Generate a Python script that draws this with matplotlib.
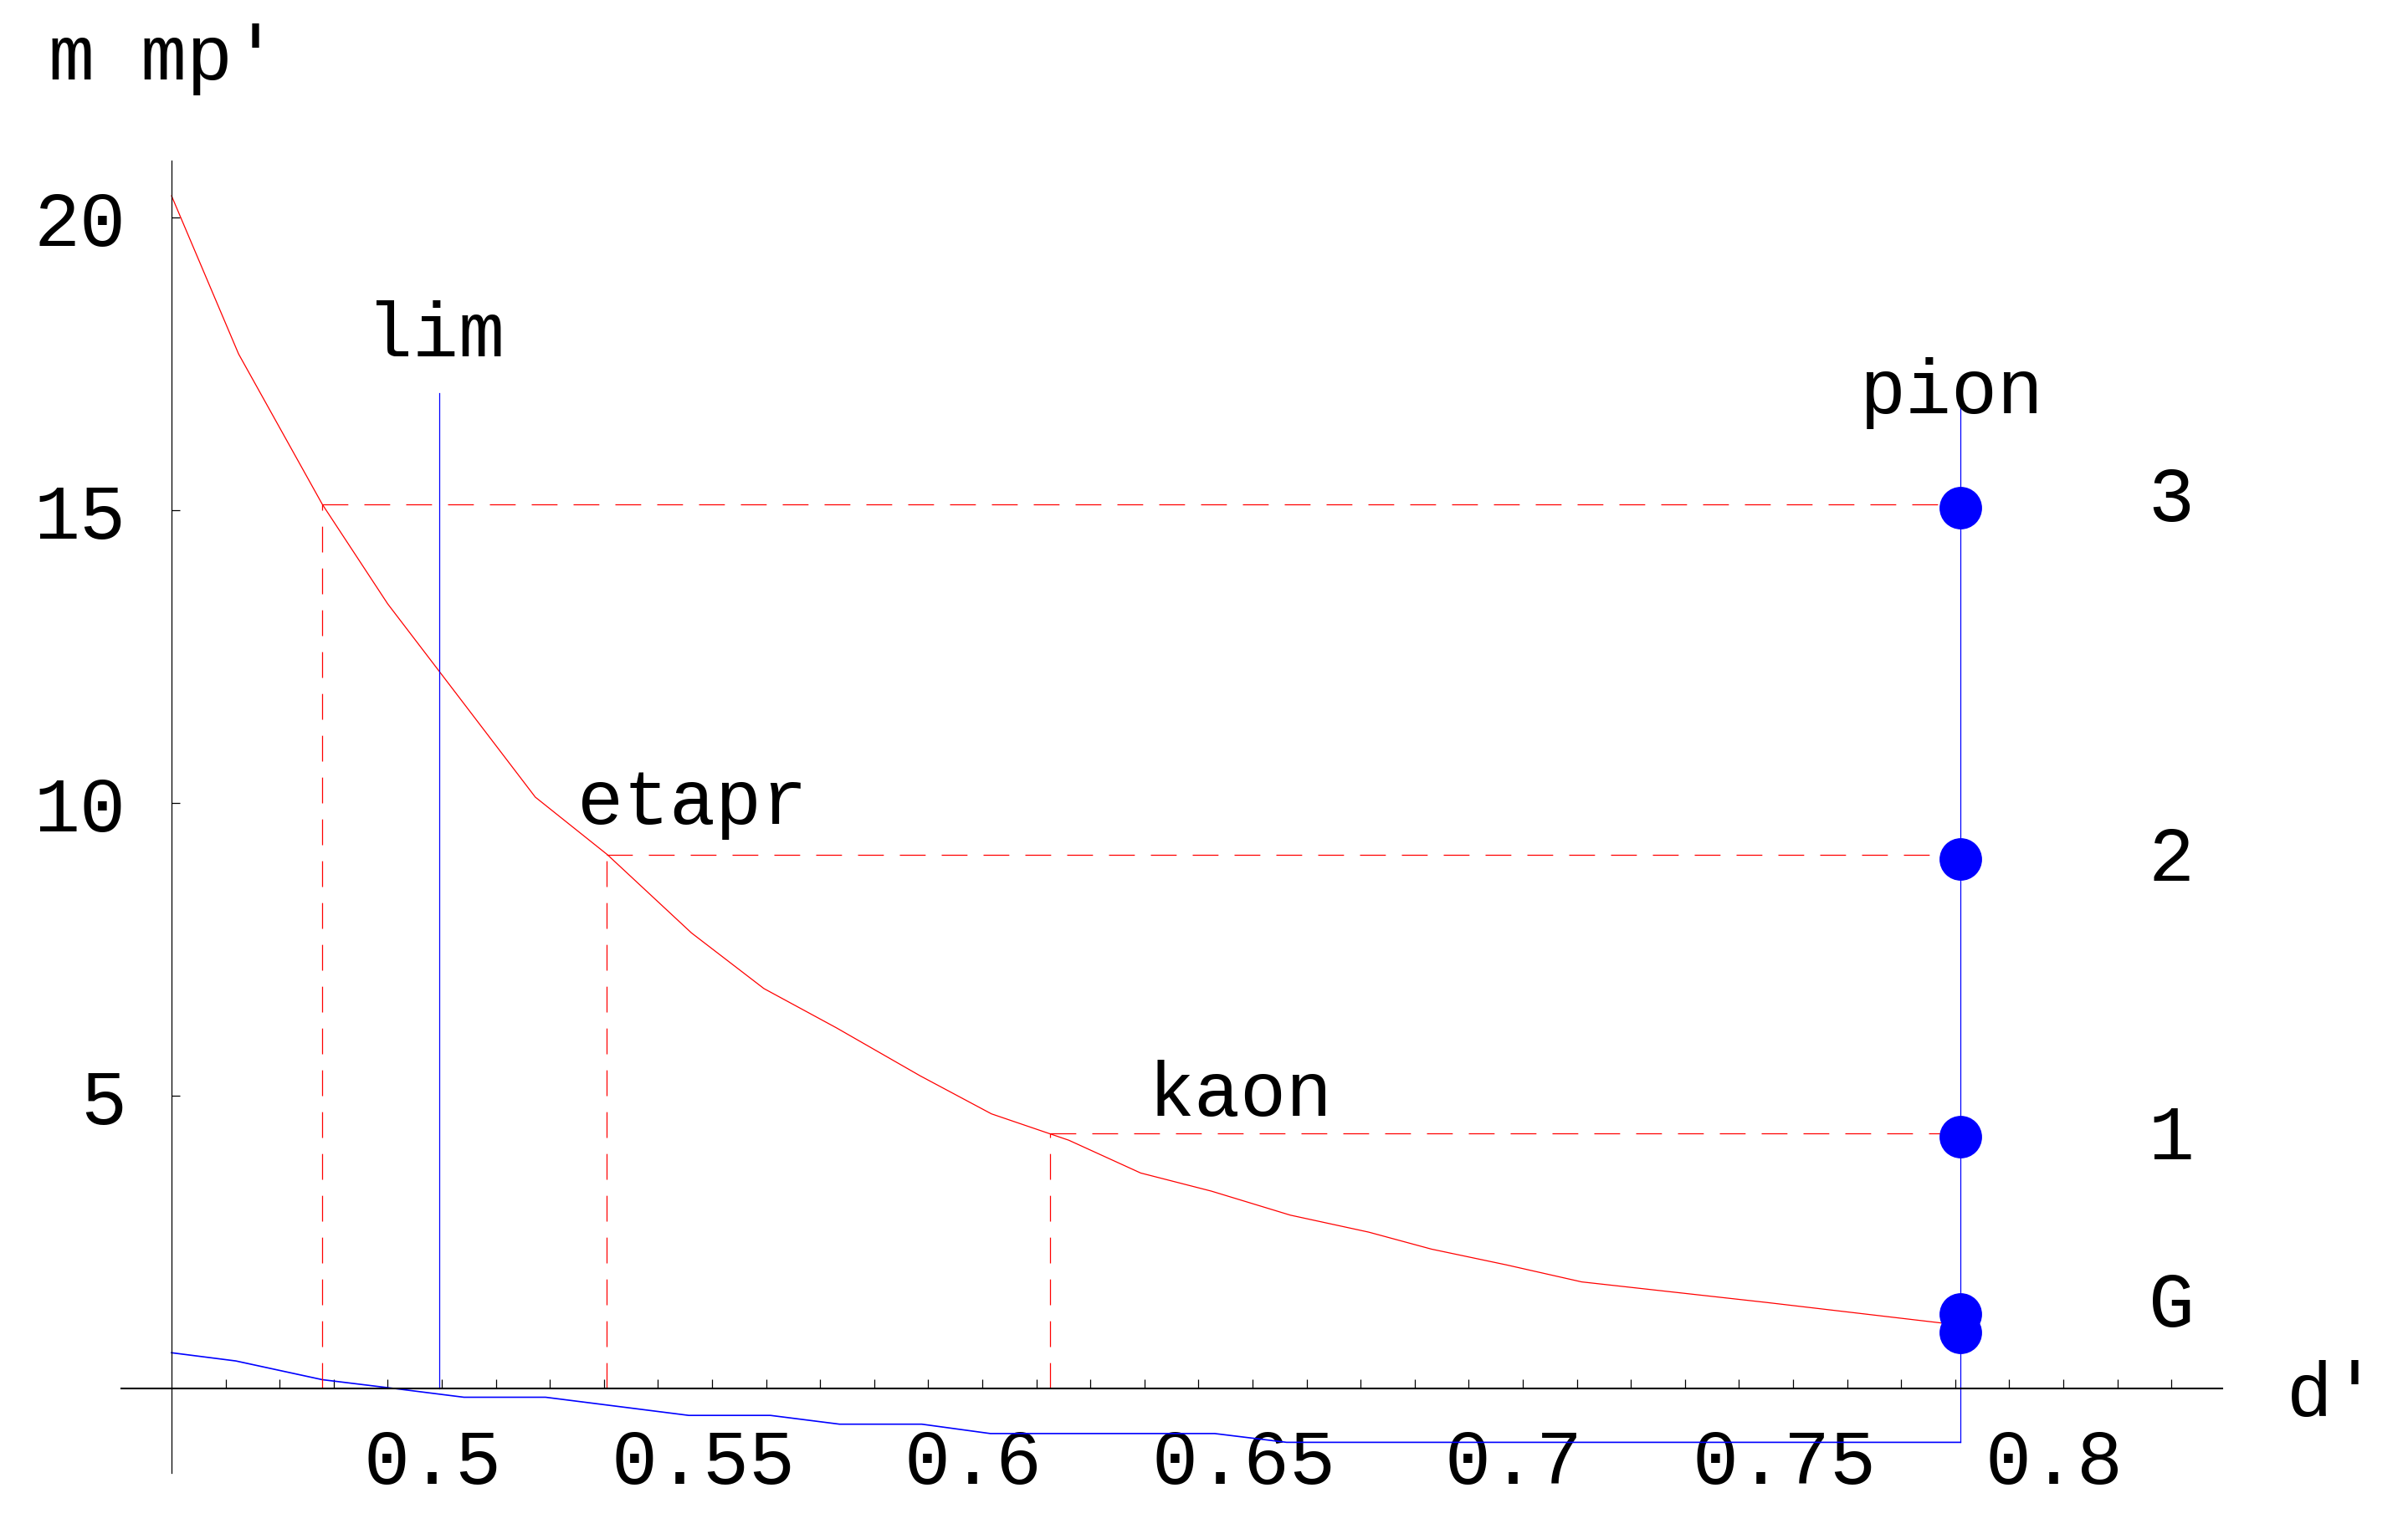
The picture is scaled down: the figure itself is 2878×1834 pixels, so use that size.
import matplotlib
matplotlib.use("Agg")
import matplotlib.pyplot as plt
import matplotlib.transforms as mtransforms
from matplotlib.ticker import FixedLocator

plt.rcParams["font.family"] = ["Liberation Mono", "DejaVu Sans Mono"]
plt.rcParams["lines.scale_dashes"] = False

# red curve m/mp' against d'
d_red = [0.45, 0.4624, 0.4779, 0.4900, 0.5044, 0.5173, 0.5306, 0.5462, 0.5596,
         0.5730, 0.5885, 0.6017, 0.6160, 0.6293, 0.6424, 0.6570, 0.6715, 0.6831,
         0.6970, 0.7109, 0.7450, 0.7810]
m_red = [20.37, 17.67, 15.10, 13.40, 11.66, 10.10, 9.12, 7.78, 6.83,
         6.16, 5.34, 4.69, 4.24, 3.68, 3.37, 2.96, 2.67, 2.38,
         2.11, 1.82, 1.47, 1.08]

# blue lower curve
d_blue = [0.45, 0.4619, 0.4779, 0.4912, 0.5041, 0.5192, 0.5457, 0.5608, 0.5736,
          0.5888, 0.6015, 0.6430, 0.6563, 0.7810]
m_blue = [0.61, 0.47, 0.15, 0.0, -0.15, -0.15, -0.46, -0.46, -0.61,
          -0.61, -0.77, -0.77, -0.92, -0.92]

# markers at the pion line
d_pion = 0.781
pion_top = 17.0
m_dots = [15.04, 9.04, 4.30, 1.27, 0.95]

# limit line
d_lim = 0.4995
lim_top = 17.0

# dashed read-off lines
cross_d = [0.4779, 0.5305, 0.6125]
cross_m = [15.10, 9.11, 4.36]

# labels on the right of the dots
level_names = ["3", "2", "1", "G"]
level_y = [14.83, 8.69, 3.93, 1.07]
level_x = 0.8200

# meson names
meson_names = ["lim", "etapr", "kaon", "pion"]
meson_x = [0.4989, 0.5463, 0.6478, 0.7793]
meson_y = [17.65, 9.66, 4.67, 16.67]

x_major = [0.5, 0.55, 0.6, 0.65, 0.7, 0.75, 0.8]
x_major_labels = ["0.5", "0.55", "0.6", "0.65", "0.7", "0.75", "0.8"]
x_minor = [0.46, 0.47, 0.48, 0.49, 0.51, 0.52, 0.53, 0.54, 0.56, 0.57, 0.58,
           0.59, 0.61, 0.62, 0.63, 0.64, 0.66, 0.67, 0.68, 0.69, 0.71, 0.72,
           0.73, 0.74, 0.76, 0.77, 0.78, 0.79, 0.81, 0.82]
y_major = [5, 10, 15, 20]
y_major_labels = ["5", "10", "15", "20"]

red = (1, 0, 0)
blue = (0, 0, 1)
dash = (0, (7.4, 4.6))

fig = plt.figure(figsize=(2879 / 300, 1835 / 300), dpi=300)
ax = fig.add_axes([0.04877, 0.00327, 0.94241, 0.98420])
ax.set_xlim(0.44, 0.86)
ax.set_ylim(-2.4, 23.4)

# axes crossing at (0.45, 0) like the original
for side in ["top", "right"]:
    ax.spines[side].set_visible(False)
ax.spines["left"].set_position(("data", 0.45))
ax.spines["left"].set_bounds(-1.45, 20.97)
ax.spines["left"].set_linewidth(0.3)
ax.spines["bottom"].set_position(("data", 0))
ax.spines["bottom"].set_bounds(0.4407, 0.8294)
ax.spines["bottom"].set_linewidth(0.5)

ax.xaxis.set_major_locator(FixedLocator(x_major))
ax.xaxis.set_minor_locator(FixedLocator(x_minor))
ax.set_xticklabels(x_major_labels)
ax.yaxis.set_major_locator(FixedLocator(y_major))
ax.set_yticklabels(y_major_labels)
ax.tick_params(axis="x", which="both", direction="in", length=2.6, width=0.3,
               pad=11, labelsize=22)
ax.tick_params(axis="y", which="major", direction="in", length=2.4, width=0.3,
               pad=13, labelsize=22)
# x labels sit a little left of their ticks in the original
shift = mtransforms.ScaledTranslation(-11 / 300, 0, fig.dpi_scale_trans)
for lbl in ax.get_xticklabels():
    lbl.set_transform(lbl.get_transform() + shift)

# curves
ax.plot(d_red, m_red, color=red, lw=0.3)
ax.plot(d_blue, m_blue, color=blue, lw=0.4)
ax.plot([d_lim, d_lim], [0, lim_top], color=blue, lw=0.3)
ax.plot([d_pion, d_pion], [m_blue[-1], pion_top], color=blue, lw=0.3)

# dashed read-off lines
for cd, cm in zip(cross_d, cross_m):
    ax.plot([cd, cd], [0, cm], color=red, lw=0.3, linestyle=dash)
    ax.plot([cd, d_pion], [cm, cm], color=red, lw=0.3, linestyle=dash)

ax.plot([d_pion] * len(m_dots), m_dots, "o", color=blue, markersize=12.2,
        markeredgewidth=0, zorder=5)

for name, ly in zip(level_names, level_y):
    ax.text(level_x, ly, name, ha="center", va="baseline", fontsize=22)
for name, mx, my in zip(meson_names, meson_x, meson_y):
    ax.text(mx, my, name, ha="center", va="baseline", fontsize=22)

ax.text(0.8499, -0.46, "d'", ha="center", va="baseline", fontsize=22)
ax.text(0.4272, 22.37, "m mp'", ha="left", va="baseline", fontsize=22)

fig.savefig("out.png", dpi=300)
